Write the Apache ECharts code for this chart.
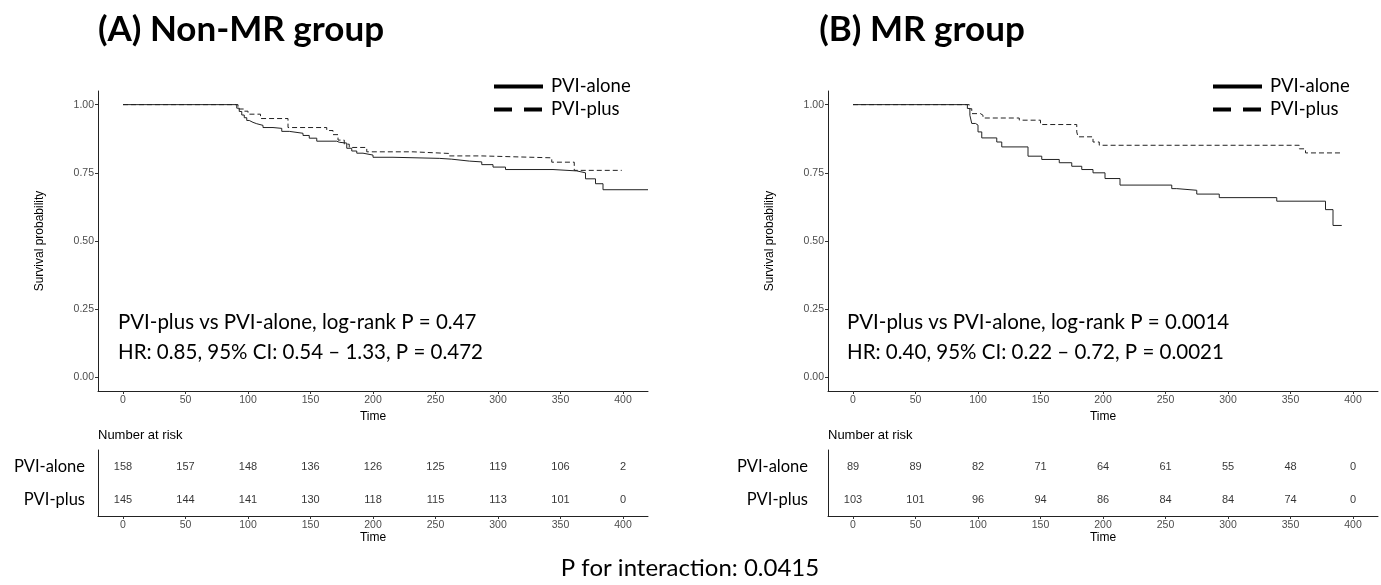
<!DOCTYPE html>
<html>
<head>
<meta charset="utf-8">
<script src="https://cdn.jsdelivr.net/npm/echarts@6/dist/echarts.min.js"></script>
<style>html,body{margin:0;padding:0;background:#fff;}#c{width:1381px;height:585px;}</style>
</head>
<body>
<div id="c"></div>
<script>
// ---- Data ----
const timeTicks = [0, 50, 100, 150, 200, 250, 300, 350, 400];
const probTicks = [0, 0.25, 0.5, 0.75, 1];
const groups = ['PVI-alone', 'PVI-plus'];

// (A) Non-MR group: Kaplan-Meier steps
const nonMR_alone_t = [0, 91, 93, 95, 97, 99, 101, 104, 107, 112, 120, 127, 133, 144, 149, 155, 171, 173, 179, 183, 187, 192, 200, 216, 253, 263, 277, 287, 296, 306, 344, 363, 370, 378, 384, 420];
const nonMR_alone_p = [1, 0.987, 0.975, 0.962, 0.952, 0.942, 0.935, 0.93, 0.924, 0.916, 0.913, 0.902, 0.895, 0.887, 0.877, 0.866, 0.862, 0.859, 0.84, 0.83, 0.822, 0.815, 0.807, 0.803, 0.80, 0.793, 0.79, 0.78, 0.771, 0.762, 0.757, 0.75, 0.728, 0.71, 0.688, 0.688];
const nonMR_plus_t = [0, 92, 97, 100, 110, 132, 163, 168, 172, 177, 181, 195, 232, 261, 287, 343, 361, 399];
const nonMR_plus_p = [1, 0.984, 0.976, 0.965, 0.949, 0.916, 0.905, 0.89, 0.87, 0.855, 0.843, 0.827, 0.821, 0.812, 0.805, 0.789, 0.759, 0.759];

// (B) MR group
const MR_alone_t = [0, 91.5, 93.5, 95, 98, 100, 103, 115, 119, 140, 151, 165, 175, 183, 192, 201.6, 213.6, 255, 259, 275, 293, 339, 378, 384, 391];
const MR_alone_p = [1, 0.986, 0.961, 0.931, 0.925, 0.90, 0.878, 0.863, 0.845, 0.811, 0.799, 0.787, 0.774, 0.762, 0.75, 0.729, 0.705, 0.692, 0.686, 0.672, 0.659, 0.646, 0.615, 0.557, 0.557];
const MR_plus_t = [0, 93, 95, 102, 104, 133, 150, 179, 180, 192, 197, 357, 362, 390];
const MR_plus_p = [1, 0.985, 0.967, 0.961, 0.951, 0.943, 0.927, 0.9, 0.882, 0.863, 0.851, 0.838, 0.823, 0.823];

// Numbers at risk
const nonMR_alone_risk = [158, 157, 148, 136, 126, 125, 119, 106, 2];
const nonMR_plus_risk = [145, 144, 141, 130, 118, 115, 113, 101, 0];
const MR_alone_risk = [89, 89, 82, 71, 64, 61, 55, 48, 0];
const MR_plus_risk = [103, 101, 96, 94, 86, 84, 84, 74, 0];

// ---- Helpers ----
const zip = (t, p) => t.map((v, i) => [v, p[i]]);
const riskData = (arr, grp) => arr.map((n, i) => [timeTicks[i], grp, n]);

const smallFont = 'Liberation Sans, Arial, sans-serif';
const bigFont = 'Lato, Open Sans, sans-serif';
const axisCol = '#222';
const tickLabCol = '#4d4d4d';

function xAx(gridIndex, nameGap) {
  return {
    gridIndex, type: 'value', min: -20, max: 420,
    name: 'Time', nameLocation: 'middle', nameGap,
    nameTextStyle: { fontFamily: smallFont, fontSize: 12, color: '#000' },
    axisLine: { show: true, onZero: false, lineStyle: { color: axisCol, width: 1 } },
    axisTick: { show: true, length: 3, customValues: timeTicks, lineStyle: { color: '#333' } },
    axisLabel: { customValues: timeTicks, fontFamily: smallFont, fontSize: 10.5, color: tickLabCol, margin: 4 },
    splitLine: { show: false }
  };
}
function yAxSurv(gridIndex) {
  return {
    gridIndex, type: 'value', min: -0.05, max: 1.05,
    name: 'Survival probability', nameLocation: 'middle', nameGap: 52, nameRotate: 90,
    nameTextStyle: { fontFamily: smallFont, fontSize: 12, color: '#000' },
    axisLine: { show: true, onZero: false, lineStyle: { color: axisCol, width: 1 } },
    axisTick: { show: true, length: 3, customValues: probTicks, lineStyle: { color: '#333' } },
    axisLabel: { customValues: probTicks, formatter: v => v.toFixed(2), fontFamily: smallFont, fontSize: 10.5, color: tickLabCol, margin: 4 },
    splitLine: { show: false }
  };
}
function yAxRisk(gridIndex, margin) {
  return {
    gridIndex, type: 'category', data: ['PVI-plus', 'PVI-alone'],
    axisLine: { show: true, onZero: false, lineStyle: { color: axisCol, width: 1 } },
    axisTick: { show: false },
    axisLabel: { fontFamily: bigFont, fontSize: 16.5, color: '#000', margin },
    splitLine: { show: false }
  };
}
function kmSeries(name, data, xi, dashed) {
  return {
    type: 'line', name, data, xAxisIndex: xi, yAxisIndex: xi, step: 'end',
    symbol: 'none', clip: true, silent: true,
    itemStyle: { color: '#222' },
    lineStyle: { color: '#222', width: 1, type: dashed ? [5, 3] : 'solid' }
  };
}
function riskSeries(data, xi) {
  return {
    type: 'scatter', data, xAxisIndex: xi, yAxisIndex: xi, symbolSize: 0,
    encode: { x: 0, y: 1 },
    label: { show: true, position: 'inside', formatter: p => String(p.value[2]),
      fontFamily: smallFont, fontSize: 11, color: '#000' }
  };
}
function legendAt(left) {
  const hidden = { color: 'rgba(0,0,0,0)', borderColor: 'rgba(0,0,0,0)', borderWidth: 0 };
  return {
    left, top: 72, orient: 'vertical', itemWidth: 49, itemHeight: 14, itemGap: 4,
    textStyle: { fontFamily: bigFont, fontSize: 18.5, color: '#000', padding: [0, 0, 0, 3] },
    itemStyle: hidden,
    data: [
      { name: 'PVI-alone', itemStyle: hidden, lineStyle: { width: 4, color: '#000', type: 'solid' } },
      { name: 'PVI-plus', itemStyle: hidden, lineStyle: { width: 4, color: '#000', type: [18, 12] } }
    ],
    selectedMode: false
  };
}
function txt(x, y, text, size, opts) {
  return { type: 'text', x, y, style: Object.assign({ text, fontFamily: bigFont, fontSize: size, fill: '#000', textAlign: 'left', textVerticalAlign: 'middle' }, opts || {}) };
}

const chart = echarts.init(document.getElementById('c'), null, { renderer: 'canvas' });
chart.setOption({
  animation: false,
  backgroundColor: '#fff',
  grid: [
    { left: 98, top: 91, width: 550, height: 300 },
    { left: 828, top: 91, width: 550, height: 300 },
    { left: 98, top: 450, width: 550, height: 66 },
    { left: 828, top: 450, width: 550, height: 66 }
  ],
  xAxis: [xAx(0, 15), xAx(1, 15), xAx(2, 15), xAx(3, 15)],
  yAxis: [yAxSurv(0), yAxSurv(1), yAxRisk(2, 13), yAxRisk(3, 20)],
  legend: [legendAt(487), legendAt(1206)],
  series: [
    kmSeries('PVI-alone', zip(nonMR_alone_t, nonMR_alone_p), 0, false),
    kmSeries('PVI-plus', zip(nonMR_plus_t, nonMR_plus_p), 0, true),
    kmSeries('PVI-alone', zip(MR_alone_t, MR_alone_p), 1, false),
    kmSeries('PVI-plus', zip(MR_plus_t, MR_plus_p), 1, true),
    riskSeries(riskData(nonMR_alone_risk, 'PVI-alone').concat(riskData(nonMR_plus_risk, 'PVI-plus')), 2),
    riskSeries(riskData(MR_alone_risk, 'PVI-alone').concat(riskData(MR_plus_risk, 'PVI-plus')), 3)
  ],
  graphic: [
    txt(241, 30, '(A) Non-MR group', 35, { fontWeight: 'bold', textAlign: 'center' }),
    txt(922, 30, '(B) MR group', 35, { fontWeight: 'bold', textAlign: 'center' }),
    txt(118, 322, 'PVI-plus vs PVI-alone, log-rank P = 0.47', 20.5),
    txt(118, 352, 'HR: 0.85, 95% CI: 0.54 \u2013 1.33, P = 0.472', 20.5),
    txt(847, 322, 'PVI-plus vs PVI-alone, log-rank P = 0.0014', 20.5),
    txt(847, 352, 'HR: 0.40, 95% CI: 0.22 \u2013 0.72, P = 0.0021', 20.5),
    txt(98, 435, 'Number at risk', 13, { fontFamily: smallFont }),
    txt(828, 435, 'Number at risk', 13, { fontFamily: smallFont }),
    txt(690, 568, 'P for interaction: 0.0415', 24, { textAlign: 'center' })
  ]
});
</script>
</body>
</html>
